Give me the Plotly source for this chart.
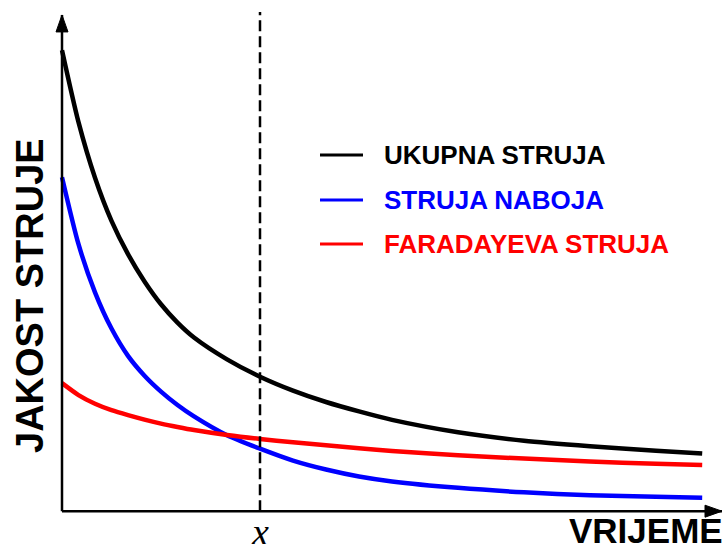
import plotly.graph_objects as go

# Time axis samples (arbitrary units) and the three current curves
vrijeme = [0, 0.25, 0.5, 0.75, 1.0, 1.25, 1.5, 1.75, 2.0, 2.5, 3.0, 3.5, 4.0, 4.5, 5.0, 6.0, 7.0, 8.0, 9.0, 9.7]
ukupna_struja = [9.29, 7.84, 6.72, 5.85, 5.18, 4.63, 4.17, 3.80, 3.50, 3.06, 2.71, 2.43, 2.20, 2.01, 1.84, 1.59, 1.42, 1.31, 1.22, 1.16]
struja_naboja = [6.73, 5.38, 4.41, 3.68, 3.13, 2.73, 2.41, 2.14, 1.91, 1.53, 1.26, 1.02, 0.84, 0.70, 0.60, 0.47, 0.38, 0.32, 0.29, 0.27]
faradayeva_struja = [2.58, 2.34, 2.165, 2.035, 1.935, 1.845, 1.765, 1.697, 1.635, 1.535, 1.455, 1.39, 1.33, 1.27, 1.215, 1.125, 1.06, 1.0, 0.955, 0.93]

series_names = ["UKUPNA STRUJA", "STRUJA NABOJA", "FARADAYEVA STRUJA"]
series_colors = ["#000000", "#0000ff", "#ff0000"]
x_marker = 3.0          # moment marked with the dashed line
x_marker_label = "x"
x_title = "VRIJEME"
y_title = "JAKOST STRUJE"

W, H = 726, 544
M_L, M_R, M_T, M_B = 29, 4, 5, 8
X_RANGE = [-0.5, 10.0]
Y_RANGE = [-0.5, 10.2]
PW, PH = W - M_L - M_R, H - M_T - M_B


def xp(px):
    """Pixel column -> paper x."""
    return (px - M_L) / PW


def yp(py):
    """Pixel row (from top) -> paper y."""
    return (H - M_B - py) / PH


fig = go.Figure()

for vals, name, col in zip([ukupna_struja, struja_naboja, faradayeva_struja], series_names, series_colors):
    fig.add_trace(go.Scatter(
        x=vrijeme, y=vals, name=name, mode="lines",
        line=dict(color=col, width=4.5, shape="spline", smoothing=0.7),
        showlegend=False, hoverinfo="skip",
    ))

shapes = []
# axes with arrow heads
shapes.append(dict(type="line", xref="x", yref="y", x0=0, y0=0, x1=10, y1=0,
                   line=dict(color="black", width=2.5)))
shapes.append(dict(type="line", xref="x", yref="y", x0=0, y0=0, x1=0, y1=10,
                   line=dict(color="black", width=2.5)))
shapes.append(dict(type="path", xref="x", yref="y", xsizemode="pixel", ysizemode="pixel",
                   xanchor=10, yanchor=0, path="M0,0 L-17,-6 L-17,6 Z",
                   fillcolor="black", line=dict(color="black", width=1)))
shapes.append(dict(type="path", xref="x", yref="y", xsizemode="pixel", ysizemode="pixel",
                   xanchor=0, yanchor=10, path="M0,0 L-6,-17 L6,-17 Z",
                   fillcolor="black", line=dict(color="black", width=1)))
# dashed marker line
shapes.append(dict(type="line", xref="x", yref="y", x0=x_marker, y0=0, x1=x_marker, y1=10.06,
                   line=dict(color="black", width=2.5, dash="11px,5px")))

# legend samples
legend_rows = [155, 200, 244]
for row, col in zip(legend_rows, series_colors):
    shapes.append(dict(type="line", xref="paper", yref="paper",
                       x0=xp(320), x1=xp(363), y0=yp(row), y1=yp(row),
                       line=dict(color=col, width=2.8)))

annotations = []
for row, name, col in zip(legend_rows, series_names, series_colors):
    annotations.append(dict(xref="paper", yref="paper", x=xp(382), y=yp(row),
                            text=name, showarrow=False, xanchor="left", yanchor="middle",
                            font=dict(family="Arial", size=26, color=col, weight="bold")))

annotations.append(dict(xref="paper", yref="paper", x=xp(30), y=yp(296), text=y_title,
                        textangle=-90, showarrow=False, xanchor="center", yanchor="middle",
                        font=dict(family="Arial", size=38, color="black", weight="bold")))
annotations.append(dict(xref="paper", yref="paper", x=xp(725), y=yp(530), text=x_title,
                        showarrow=False, xanchor="right", yanchor="middle",
                        font=dict(family="Arial", size=35, color="black", weight="bold")))
annotations.append(dict(xref="paper", yref="paper", x=xp(260), y=yp(532), text=x_marker_label,
                        showarrow=False, xanchor="center", yanchor="middle",
                        font=dict(family="Liberation Serif", size=38, color="black", style="italic")))

fig.update_layout(
    width=W, height=H,
    margin=dict(l=M_L, r=M_R, t=M_T, b=M_B, pad=0),
    paper_bgcolor="white", plot_bgcolor="white",
    xaxis=dict(range=X_RANGE, visible=False, fixedrange=True),
    yaxis=dict(range=Y_RANGE, visible=False, fixedrange=True),
    shapes=shapes, annotations=annotations,
    showlegend=False,
)

fig.write_html("out.html")
